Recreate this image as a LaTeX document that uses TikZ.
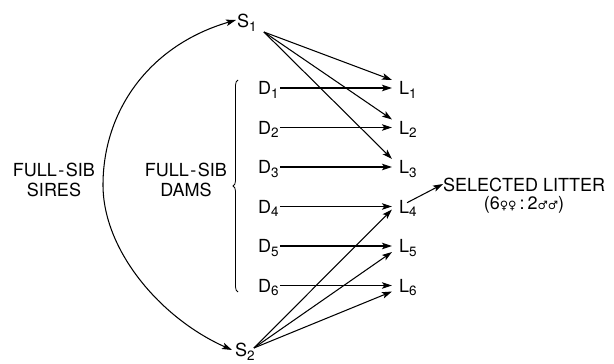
\documentclass[tikz,border=0pt]{standalone}
\usepackage{fontspec}
\setmainfont{TeX Gyre Heros}
\newfontfamily\symf{DejaVu Sans}
\usetikzlibrary{arrows.meta,decorations.pathreplacing}
% lowered subscript that does not change the node's box
\newcommand\sbs[1]{\smash{\raisebox{-0.4ex}{\fontsize{13.5}{13.5}\selectfont #1}}}
\newcommand\sx[1]{{\symf\fontsize{11.5}{11.5}\selectfont #1}}
\newcommand\fs{FULL\kern1.5pt-\kern1.5pt SIB}
\begin{document}
\begin{tikzpicture}[x=1pt,y=-1pt,
  lbl/.style={inner sep=0pt,font=\fontsize{18}{20}\selectfont},
  tip/.tip={Stealth[length=10pt,width=6.5pt,inset=2.2pt]},
  arr/.style={line width=1.05pt,-tip},
  dbl/.style={line width=1.05pt,tip-tip}]
\useasboundingbox (0,0) rectangle (614,364);

% sires
\node[lbl,anchor=west] (S1) at (237,21) {S\sbs{1}};
\node[lbl,anchor=west] (S2) at (235,350) {S\sbs{2}};

% dams and litters
\foreach \i in {1,...,6}{
  \pgfmathsetmacro\yy{88+39.5*(\i-1)}
  \node[lbl,anchor=west] (D\i) at (258,\yy) {D\sbs{\i}};
  \node[lbl,anchor=west] (L\i) at (399,\yy) {L\sbs{\i}};
  \draw[arr] ([xshift=1pt]D\i.east) -- ([xshift=-7pt]L\i.west);
}

% group labels
\node[lbl,align=center] (sires) at (54,180) {\fs\\SIRES};
\node[lbl,align=center] (dams) at (186,180) {\fs\\DAMS};
\draw[line width=0.8pt,decorate,decoration={brace,amplitude=5pt}]
  (238,292) -- (238,80);

% selected litter
\node[lbl,anchor=west] (sel) at (443,185) {SELECTED LITTER};
\node[lbl] (ratio) at (524,205) {(6\sx{♀♀}\,:\,2\sx{♂♂})};

% sire to sire arc
\draw[dbl] ([xshift=-3pt]S2.west) .. controls (160,318) and (103,250) .. (103,185)
  .. controls (103,110) and (150,45) .. ([xshift=-1pt,yshift=1pt]S1.west);

% sire matings
\foreach \i in {1,2,3}
  \draw[arr] ([shift={(7pt,-11pt)}]S1.east) -- ([shift={(-7pt,8pt)}]L\i.west);
\draw[arr] ([shift={(-1pt,2pt)}]S2.east) -- ([shift={(-7pt,-3pt)}]L4.west);
\draw[arr] ([shift={(-1pt,2pt)}]S2.east) -- ([shift={(-7pt,-6pt)}]L5.west);
\draw[arr] ([shift={(-1pt,2pt)}]S2.east) -- ([shift={(-7pt,-6pt)}]L6.west);

\draw[arr] ([shift={(8pt,-3pt)}]L4.north west) -- ([yshift=1pt]sel.west);
\end{tikzpicture}
\end{document}
